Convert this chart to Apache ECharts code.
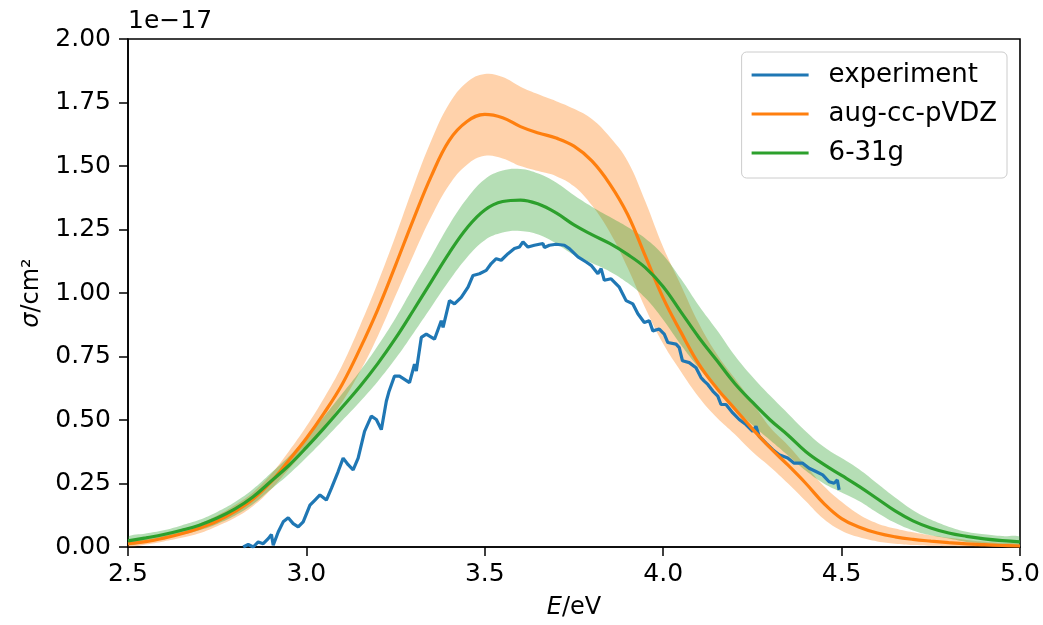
<!DOCTYPE html>
<html><head><meta charset="utf-8">
<script src="https://cdn.jsdelivr.net/npm/echarts@6/dist/echarts.min.js"></script>
<style>html,body{margin:0;padding:0;background:#fff}#c{width:1043px;height:625px}</style>
</head><body><div id="c"></div>
<script>
// Energy grid for computed spectra (eV)
const energy = [2.50,2.55,2.60,2.65,2.70,2.75,2.80,2.85,2.90,2.95,3.00,3.05,3.10,3.15,3.20,3.25,3.30,3.35,3.40,3.45,3.50,3.55,3.60,3.65,3.70,3.75,3.80,3.85,3.90,3.95,4.00,4.05,4.10,4.15,4.20,4.25,4.30,4.35,4.40,4.45,4.50,4.55,4.60,4.65,4.70,4.75,4.80,4.85,4.90,4.95,5.00];

// aug-cc-pVDZ (units of 1e-17 cm^2)
const augMean  = [0.013,0.021,0.035,0.052,0.074,0.102,0.140,0.188,0.255,0.340,0.428,0.528,0.640,0.780,0.935,1.110,1.290,1.460,1.600,1.675,1.703,1.690,1.655,1.630,1.610,1.578,1.520,1.430,1.310,1.145,0.980,0.845,0.720,0.625,0.545,0.465,0.390,0.322,0.250,0.172,0.112,0.078,0.055,0.040,0.030,0.023,0.017,0.012,0.009,0.006,0.004];
const augUpper = [0.022,0.032,0.048,0.066,0.092,0.124,0.165,0.215,0.285,0.375,0.475,0.588,0.715,0.870,1.040,1.225,1.420,1.600,1.745,1.830,1.862,1.850,1.812,1.782,1.755,1.725,1.685,1.615,1.520,1.360,1.180,1.030,0.880,0.760,0.665,0.570,0.470,0.400,0.320,0.240,0.178,0.127,0.093,0.073,0.058,0.046,0.036,0.028,0.021,0.016,0.012];
const augLower = [0.002,0.010,0.022,0.036,0.054,0.082,0.115,0.160,0.225,0.305,0.385,0.472,0.570,0.690,0.830,0.990,1.150,1.300,1.425,1.505,1.540,1.530,1.500,1.480,1.460,1.420,1.345,1.240,1.100,0.940,0.800,0.690,0.590,0.510,0.445,0.375,0.315,0.250,0.180,0.110,0.064,0.038,0.022,0.013,0.008,0.005,0.003,0.002,0.001,0.001,0.000];

// 6-31g
const g631Mean  = [0.024,0.036,0.049,0.066,0.086,0.114,0.150,0.197,0.258,0.320,0.392,0.469,0.550,0.632,0.722,0.822,0.932,1.045,1.157,1.256,1.327,1.360,1.366,1.350,1.315,1.268,1.230,1.195,1.152,1.100,1.025,0.925,0.825,0.735,0.645,0.570,0.500,0.440,0.375,0.325,0.282,0.238,0.190,0.142,0.103,0.075,0.055,0.042,0.032,0.025,0.020];
const g631Upper = [0.040,0.053,0.066,0.085,0.107,0.138,0.177,0.227,0.290,0.355,0.432,0.515,0.603,0.692,0.792,0.902,1.025,1.145,1.268,1.372,1.448,1.482,1.488,1.470,1.435,1.385,1.340,1.300,1.260,1.215,1.150,1.055,0.950,0.855,0.755,0.670,0.595,0.525,0.455,0.395,0.350,0.305,0.250,0.195,0.145,0.108,0.080,0.060,0.050,0.043,0.040];
const g631Lower = [0.008,0.020,0.033,0.048,0.066,0.091,0.124,0.168,0.226,0.285,0.352,0.423,0.497,0.572,0.652,0.742,0.842,0.945,1.048,1.140,1.208,1.238,1.244,1.230,1.195,1.150,1.118,1.085,1.040,0.980,0.895,0.795,0.705,0.625,0.545,0.480,0.420,0.360,0.300,0.250,0.215,0.180,0.135,0.095,0.065,0.046,0.033,0.020,0.014,0.010,0.007];

// experiment
const expEnergy = [2.823,2.837,2.851,2.865,2.879,2.893,2.902,2.907,2.921,2.935,2.949,2.963,2.977,2.991,3.010,3.024,3.038,3.056,3.070,3.089,3.103,3.117,3.131,3.145,3.163,3.182,3.196,3.210,3.224,3.231,3.247,3.261,3.289,3.303,3.308,3.322,3.336,3.359,3.378,3.383,3.401,3.415,3.434,3.453,3.467,3.485,3.504,3.518,3.532,3.546,3.565,3.583,3.597,3.607,3.621,3.639,3.663,3.667,3.681,3.700,3.723,3.737,3.761,3.784,3.798,3.817,3.826,3.835,3.854,3.877,3.896,3.915,3.929,3.947,3.961,3.971,3.989,4.003,4.013,4.036,4.045,4.054,4.073,4.092,4.106,4.115,4.125,4.139,4.153,4.162,4.176,4.195,4.213,4.232,4.251,4.260,4.269,4.288,4.307,4.325,4.349,4.367,4.391,4.409,4.428,4.447,4.465,4.479,4.488,4.493];
const expSigma  = [0.000,0.010,0.000,0.020,0.013,0.033,0.049,0.007,0.059,0.099,0.115,0.092,0.079,0.099,0.165,0.185,0.205,0.185,0.231,0.297,0.350,0.324,0.304,0.350,0.455,0.515,0.502,0.462,0.574,0.610,0.673,0.673,0.647,0.720,0.693,0.825,0.838,0.818,0.891,0.865,0.970,0.957,0.983,1.023,1.069,1.076,1.089,1.116,1.135,1.129,1.155,1.175,1.181,1.201,1.181,1.188,1.195,1.179,1.188,1.192,1.188,1.175,1.142,1.122,1.109,1.076,1.096,1.050,1.056,1.023,0.970,0.957,0.918,0.884,0.891,0.851,0.858,0.838,0.805,0.799,0.785,0.733,0.726,0.706,0.667,0.653,0.640,0.614,0.594,0.561,0.561,0.528,0.502,0.482,0.455,0.475,0.436,0.409,0.383,0.363,0.350,0.330,0.330,0.310,0.297,0.284,0.257,0.251,0.264,0.225];

const seriesNames = ['experiment', 'aug-cc-pVDZ', '6-31g'];
const colors = ['#1f77b4', '#ff7f0e', '#2ca02c'];
const bandColors = ['rgba(255,127,14,0.35)', 'rgba(44,160,44,0.35)'];

const FONT = 'DejaVu Sans';
const pair = (xs, ys) => xs.map((x, i) => [x, ys[i]]);

// Band drawn as one polygon: upper edge forward, lower edge backward, mapped through the axes.
function bandSeries(lower, upper, color) {
  return {
    type: 'custom', silent: true, clip: true, z: 2,
    data: [[energy[0], upper[0]]],
    renderItem: function (params, api) {
      const pts = [];
      for (let i = 0; i < energy.length; i++) pts.push(api.coord([energy[i], upper[i]]));
      for (let i = energy.length - 1; i >= 0; i--) pts.push(api.coord([energy[i], lower[i]]));
      return { type: 'polygon', shape: { points: pts, smooth: 0.4 }, style: { fill: color, stroke: null } };
    }
  };
}

const chart = echarts.init(document.getElementById('c'), null, { renderer: 'canvas' });
chart.setOption({
  animation: false,
  backgroundColor: '#fff',
  textStyle: { fontFamily: FONT },
  grid: { left: 128, right: 23, top: 39, bottom: 78, show: true, borderColor: '#000', borderWidth: 1.6, backgroundColor: 'transparent' },
  xAxis: {
    type: 'value', min: 2.5, max: 5.0, interval: 0.5,
    name: '{i|E}/eV', nameLocation: 'middle', nameGap: 49,
    nameTextStyle: { fontFamily: FONT, fontSize: 24, color: '#000', rich: { i: { fontStyle: 'italic', fontFamily: FONT, fontSize: 24, color: '#000' } } },
    axisLine: { show: true, lineStyle: { color: '#000', width: 1.6 } },
    axisTick: { show: true, length: 9, inside: false, lineStyle: { color: '#000', width: 1.5 } },
    axisLabel: { fontFamily: FONT, fontSize: 25, color: '#000', margin: 15, formatter: v => v.toFixed(1) },
    splitLine: { show: false }
  },
  yAxis: {
    type: 'value', min: 0, max: 2.0, interval: 0.25,
    name: '{i|σ}/cm²', nameLocation: 'middle', nameGap: 84, nameRotate: 90,
    nameTextStyle: { fontFamily: FONT, fontSize: 24, color: '#000', rich: { i: { fontStyle: 'italic', fontFamily: FONT, fontSize: 24, color: '#000' } } },
    axisLine: { show: true, lineStyle: { color: '#000', width: 1.6 } },
    axisTick: { show: true, length: 9, inside: false, lineStyle: { color: '#000', width: 1.5 } },
    axisLabel: { fontFamily: FONT, fontSize: 25, color: '#000', margin: 17, formatter: v => v.toFixed(2) },
    splitLine: { show: false }
  },
  legend: {
    data: seriesNames,
    orient: 'vertical', right: 36, top: 52,
    padding: [10, 10, 12, 10], itemGap: 13,
    icon: 'rect', itemWidth: 57, itemHeight: 3,
    backgroundColor: 'rgba(255,255,255,0.8)', borderColor: '#cccccc', borderWidth: 1, borderRadius: 5,
    textStyle: { fontFamily: FONT, fontSize: 26, color: '#000', padding: [0, 0, 0, 15] }
  },
  graphic: [
    { type: 'text', left: 128, top: 9, style: { text: '1e\u221217', font: '25px "DejaVu Sans"', fill: '#000' } }
  ],
  series: [
    { name: seriesNames[0], type: 'line', data: pair(expEnergy, expSigma), symbol: 'none',
      color: colors[0], lineStyle: { color: colors[0], width: 3.2 }, z: 3 },
    bandSeries(augLower, augUpper, bandColors[0]),
    { name: seriesNames[1], type: 'line', data: pair(energy, augMean), smooth: 0.4, symbol: 'none',
      color: colors[1], lineStyle: { color: colors[1], width: 3.2 }, z: 3 },
    bandSeries(g631Lower, g631Upper, bandColors[1]),
    { name: seriesNames[2], type: 'line', data: pair(energy, g631Mean), smooth: 0.4, symbol: 'none',
      color: colors[2], lineStyle: { color: colors[2], width: 3.2 }, z: 3 }
  ]
});
</script>
</body></html>
